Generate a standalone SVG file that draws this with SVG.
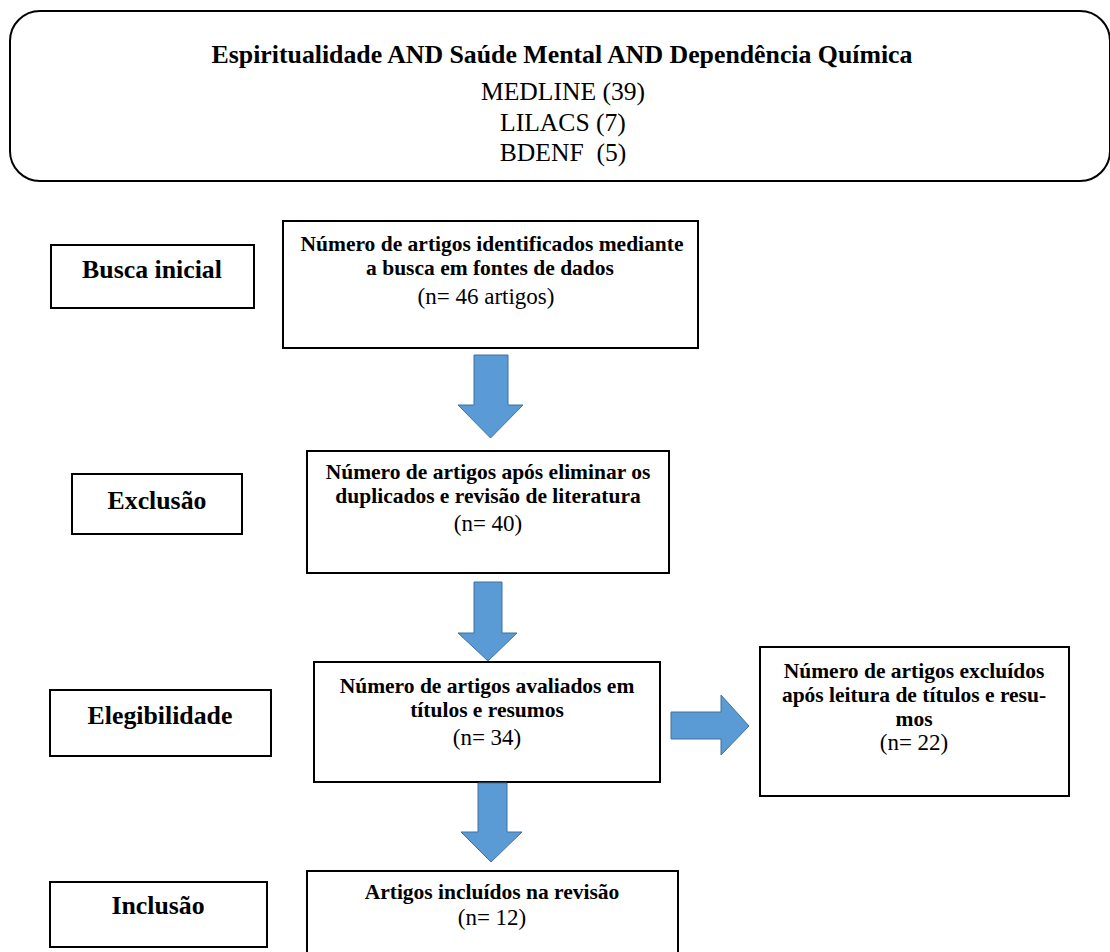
<svg xmlns="http://www.w3.org/2000/svg" width="1110" height="952" viewBox="0 0 1110 952">
<style>
.box{fill:#ffffff;stroke:#000000;stroke-width:2}
.arrow{fill:#5b9bd5;stroke:#41719c;stroke-width:1}
text{font-family:"Liberation Serif","Times New Roman",serif;fill:#000000;text-anchor:middle}
.b{font-weight:bold;font-size:21.5px}
.r{font-size:23px}
.lbl{font-weight:bold;font-size:25.8px}
.ttl{font-weight:bold;font-size:25.8px}
.db{font-size:25.6px}
</style>
<rect width="1110" height="952" fill="#ffffff"/>
<g id="search">
<rect class="box" x="10" y="11" width="1100" height="170" rx="30" ry="30"/>
<text class="ttl" x="562" y="63">Espiritualidade AND Saúde Mental AND Dependência Química</text>
<text class="db" x="563" y="100">MEDLINE (39)</text>
<text class="db" x="563" y="131">LILACS (7)</text>
<text class="db" x="563" y="161" xml:space="preserve">BDENF  (5)</text>
</g>
<g id="lbl-busca">
<rect class="box" x="51" y="245" width="203" height="63"/>
<text class="lbl" x="152" y="278">Busca inicial</text>
</g>
<g id="box-identificados">
<rect class="box" x="283" y="221" width="415" height="127"/>
<text class="b" x="492" y="251">Número de artigos identificados mediante</text>
<text class="b" x="490" y="275">a busca em fontes de dados</text>
<text class="r" x="486" y="304">(n= 46 artigos)</text>
</g>
<g id="lbl-exclusao">
<rect class="box" x="72" y="474" width="170" height="60"/>
<text class="lbl" x="157" y="509">Exclusão</text>
</g>
<g id="box-duplicados">
<rect class="box" x="307" y="451" width="362" height="122"/>
<text class="b" x="488" y="479">Número de artigos após eliminar os</text>
<text class="b" x="488" y="503">duplicados e revisão de literatura</text>
<text class="r" x="488" y="531">(n= 40)</text>
</g>
<g id="lbl-elegibilidade">
<rect class="box" x="50" y="690" width="221" height="66"/>
<text class="lbl" x="160" y="724">Elegibilidade</text>
</g>
<g id="box-avaliados">
<rect class="box" x="314" y="662" width="346" height="120"/>
<text class="b" x="487" y="693">Número de artigos avaliados em</text>
<text class="b" x="487" y="717">títulos e resumos</text>
<text class="r" x="487" y="745">(n= 34)</text>
</g>
<g id="box-excluidos">
<rect class="box" x="760" y="647" width="309" height="149"/>
<text class="b" x="914" y="678">Número de artigos excluídos</text>
<text class="b" x="914" y="702">após leitura de títulos e resu-</text>
<text class="b" x="914" y="726">mos</text>
<text class="r" x="914" y="750">(n= 22)</text>
</g>
<g id="lbl-inclusao">
<rect class="box" x="50" y="882" width="217" height="65"/>
<text class="lbl" x="158" y="914">Inclusão</text>
</g>
<g id="box-incluidos">
<rect class="box" x="307" y="871" width="371" height="90"/>
<text class="b" x="492" y="899">Artigos incluídos na revisão</text>
<text class="r" x="492" y="925">(n= 12)</text>
</g>
<g id="connectors">
<polygon class="arrow" points="474,355 508,355 508,405 523,405 490.5,438 458,405 474,405"/>
<polygon class="arrow" points="474,582 502,582 502,633 517,633 488,661 458,633 474,633"/>
<polygon class="arrow" points="671,712 721,712 721,695 749,726 721,755 721,739 671,739"/>
<polygon class="arrow" points="478,783 507,783 507,832 522,832 491,862 461,832 478,832"/>
</g>
</svg>
